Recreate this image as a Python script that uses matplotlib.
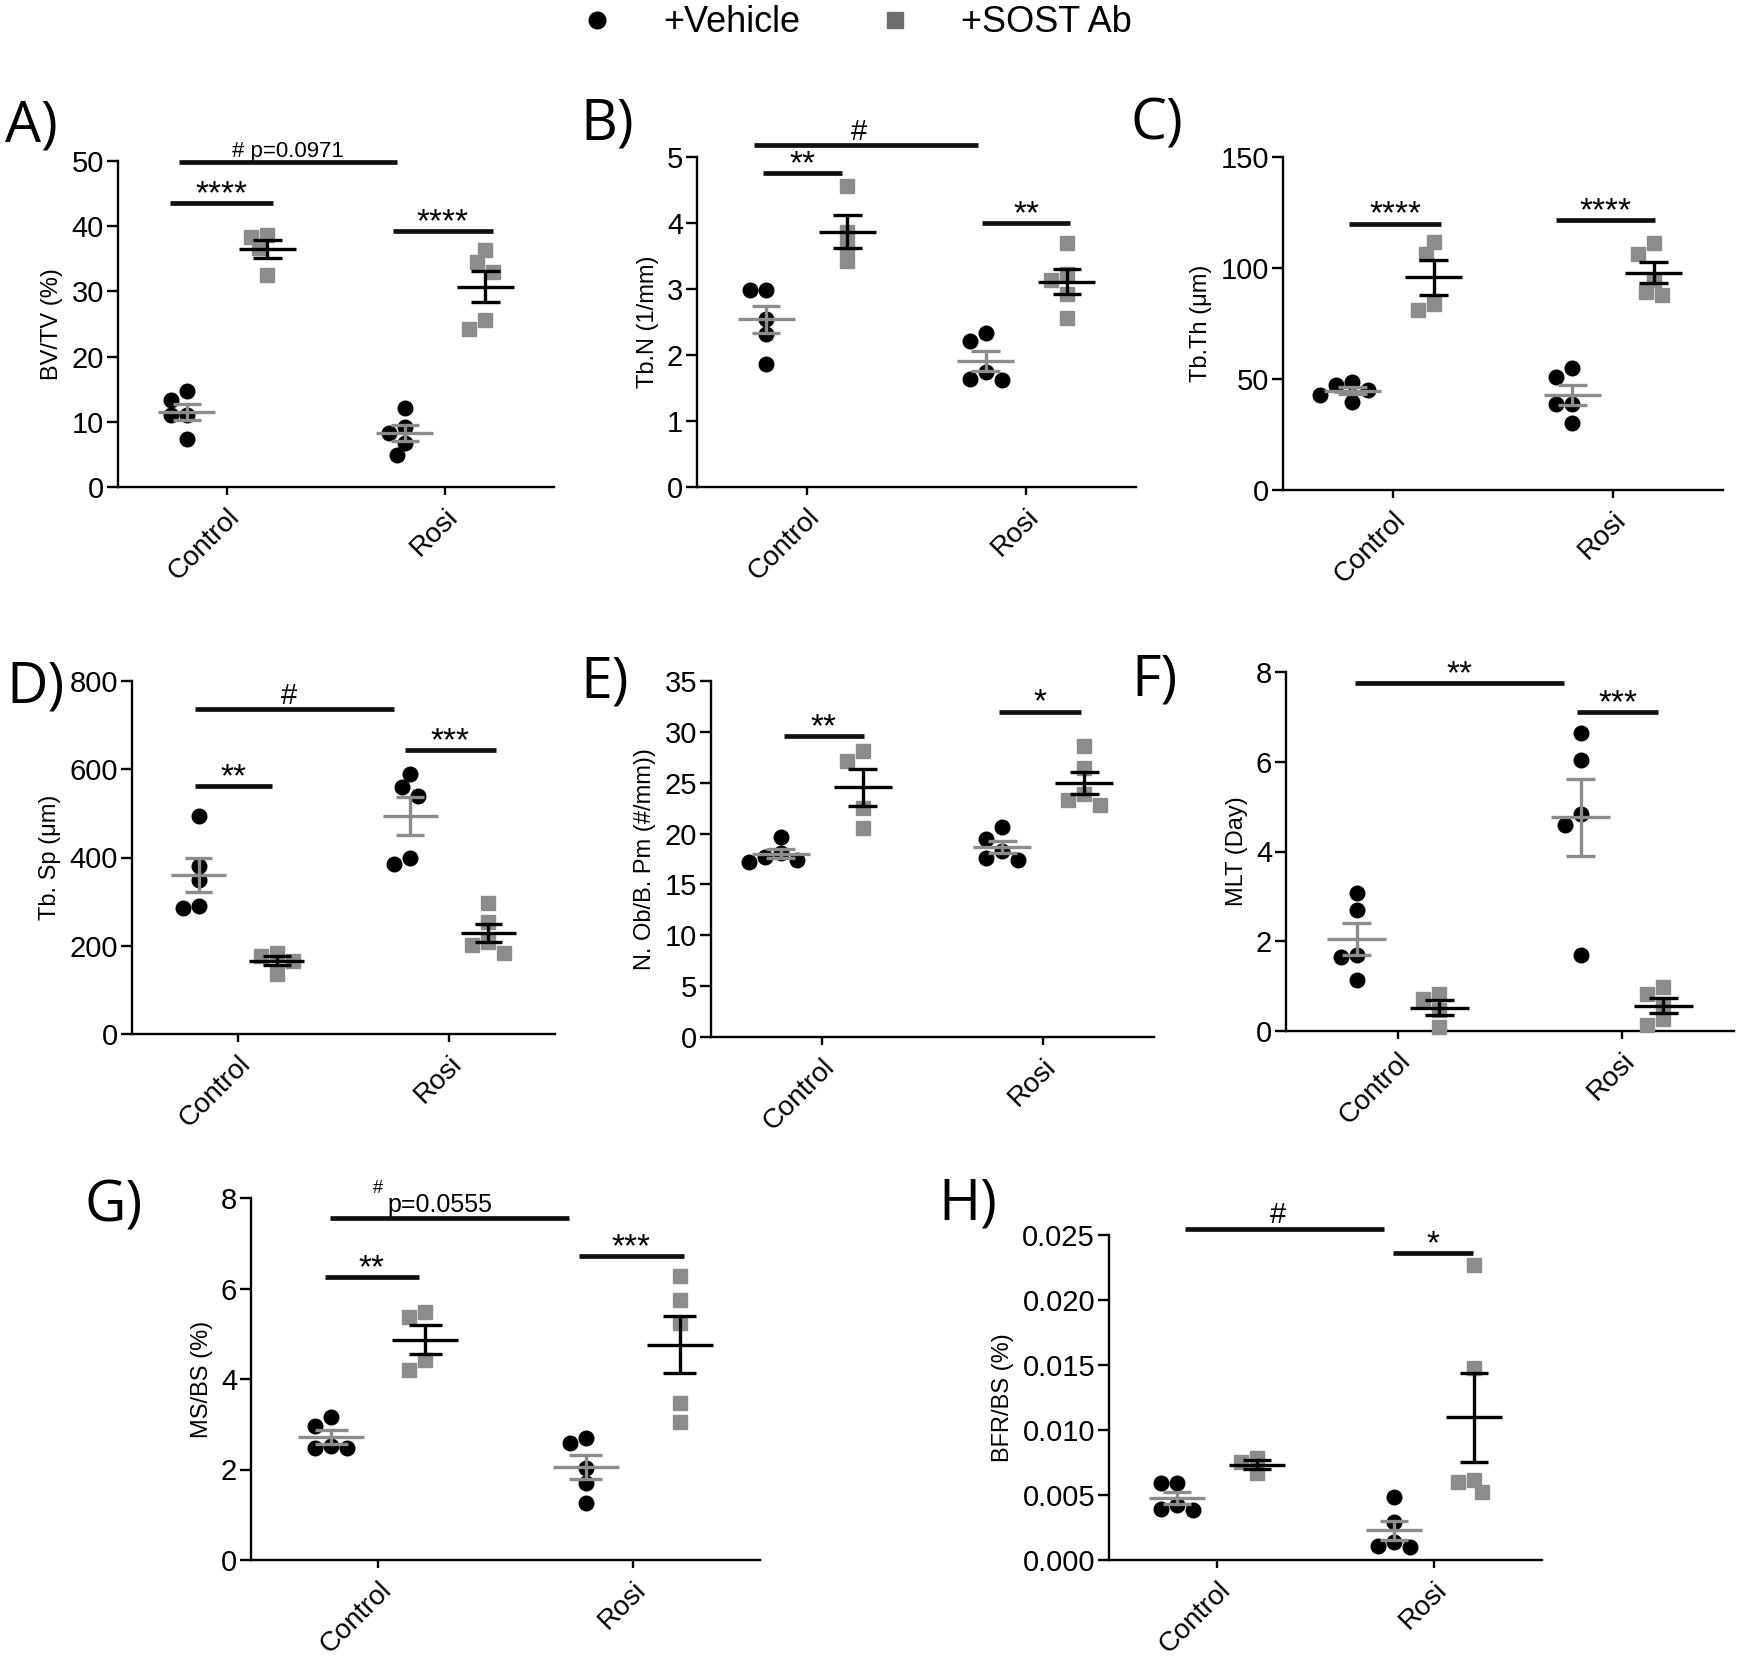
import numpy as np
import matplotlib
matplotlib.use("Agg")
import matplotlib.pyplot as plt
from matplotlib.lines import Line2D

plt.rcParams['font.family'] = ['Liberation Sans', 'DejaVu Sans']

groups = ['Control', 'Rosi']

# A) BV/TV (%)  -- [control, rosi]
bvtv_veh = [[14.8, 13.3, 11.0, 11.0, 7.4], [12.1, 9.2, 8.3, 6.7, 4.9]]
bvtv_sost = [[38.4, 38.6, 36.6, 32.5], [36.3, 34.5, 33.0, 25.6, 24.3]]
# B) Tb.N (1/mm)
tbn_veh = [[2.98, 2.98, 2.55, 2.32, 1.86], [2.34, 2.21, 1.74, 1.62, 1.64]]
tbn_sost = [[4.56, 3.86, 3.64, 3.42], [3.70, 3.23, 3.13, 2.93, 2.56]]
# C) Tb.Th (um)
tbth_veh = [[48.8, 47.3, 45.0, 42.8, 39.8], [54.8, 51.0, 38.7, 38.7, 30.0]]
tbth_sost = [[111.8, 106.2, 84.0, 81.0], [111.3, 106.5, 94.8, 89.3, 87.8]]
# D) Tb.Sp (um)
tbsp_veh = [[494, 381, 349, 286, 291], [590, 560, 540, 385, 398]]
tbsp_sost = [[177, 183, 166, 137], [296, 254, 209, 201, 183]]
# E) N.Ob/B.Pm (#/mm)
nob_veh = [[19.7, 18.1, 17.7, 17.2, 17.4], [20.6, 19.5, 18.3, 17.6, 17.4]]
nob_sost = [[28.1, 27.1, 22.5, 20.5], [28.6, 26.4, 23.9, 23.3, 22.8]]
# F) MLT (Day)
mlt_veh = [[3.08, 2.70, 1.69, 1.65, 1.13], [6.65, 6.03, 4.84, 4.60, 1.69]]
mlt_sost = [[0.83, 0.71, 0.46, 0.09], [0.98, 0.83, 0.61, 0.26, 0.13]]
# G) MS/BS (%)
msbs_veh = [[3.17, 2.96, 2.51, 2.47, 2.47], [2.69, 2.58, 2.03, 1.70, 1.25]]
msbs_sost = [[5.49, 5.38, 4.42, 4.20], [6.28, 5.75, 5.24, 3.47, 3.06]]
# H) BFR/BS (%)
bfr_veh = [[0.0059, 0.0059, 0.00423, 0.00385, 0.0039], [0.00487, 0.00295, 0.00141, 0.00103, 0.0011]]
bfr_sost = [[0.00782, 0.00751, 0.00667], [0.0227, 0.01474, 0.00615, 0.00603, 0.00526]]

W, H = 1738, 1662
fig = plt.figure(figsize=(W / 100, H / 100), dpi=100)

GREY = '#8c8c8c'

# rect in pixels: left, top, right, bottom ; letter at (x, baseline)
panels = [
    dict(letter='A)', lpos=(5, 142), rect=(118, 161, 554, 487), veh=bvtv_veh, sost=bvtv_sost,
         ytop=50, ystep=10, ylabel='BV/TV (%)', fmt='%d',
         sig=[(-0.22, 0.78, 49.8, '# p=0.0971'), (-0.26, 0.21, 43.5, '****'), (0.76, 1.22, 39.25, '****')]),
    dict(letter='B)', lpos=(580, 140), rect=(697, 157, 1136, 487), veh=tbn_veh, sost=tbn_sost,
         ytop=5, ystep=1, ylabel='Tb.N (1/mm)', fmt='%d',
         sig=[(-0.24, 0.78, 5.18, '#'), (-0.2, 0.16, 4.76, '**'), (0.8, 1.2, 4.0, '**')]),
    dict(letter='C)', lpos=(1131, 140), rect=(1283, 157, 1723, 490), veh=tbth_veh, sost=tbth_sost,
         ytop=150, ystep=50, ylabel='Tb.Th (\u03bcm)', fmt='%d',
         sig=[(-0.2, 0.22, 120, '****'), (0.74, 1.19, 121.5, '****')]),
    dict(letter='D)', lpos=(6, 703), rect=(132, 681, 555, 1034), veh=tbsp_veh, sost=tbsp_sost,
         ytop=800, ystep=200, ylabel='Tb. Sp (\u03bcm)', fmt='%d',
         sig=[(-0.2, 0.74, 736, '#'), (-0.2, 0.16, 562, '**'), (0.79, 1.22, 643, '***')]),
    dict(letter='E)', lpos=(580, 697), rect=(711, 681, 1154, 1037), veh=nob_veh, sost=nob_sost,
         ytop=35, ystep=5, ylabel='N. Ob/B. Pm (#/mm))', fmt='%d',
         sig=[(-0.17, 0.19, 29.6, '**'), (0.80, 1.17, 32.0, '*')]),
    dict(letter='F)', lpos=(1131, 695), rect=(1286, 672, 1734, 1031), veh=mlt_veh, sost=mlt_sost,
         ytop=8, ystep=2, ylabel='MLT (Day)', fmt='%d',
         sig=[(-0.19, 0.74, 7.76, '**'), (0.8, 1.16, 7.1, '***')]),
    dict(letter='G)', lpos=(85, 1222), rect=(251, 1198, 760, 1560), veh=msbs_veh, sost=msbs_sost,
         ytop=8, ystep=2, ylabel='MS/BS (%)', fmt='%d',
         sig=[(-0.19, 0.75, 7.56, ''), (-0.21, 0.16, 6.25, '**'), (0.79, 1.2, 6.71, '***')]),
    dict(letter='H)', lpos=(938, 1220), rect=(1109, 1235, 1542, 1560), veh=bfr_veh, sost=bfr_sost,
         ytop=0.025, ystep=0.005, ylabel='BFR/BS (%)', fmt='%.3f',
         sig=[(-0.15, 0.77, 0.02546, '#'), (0.81, 1.18, 0.0236, '*')]),
]


def swarm(vals, px_per_y, diam=14.0, step=8.0):
    # simple beeswarm in pixel space, returns x offsets in pixels
    vals = np.asarray(vals, dtype=float)
    placed = []
    offs = np.zeros(len(vals))
    for i in np.argsort(-vals):
        y = vals[i] * px_per_y
        for k in [0, -1, 1, -2, 2, -3, 3, -4, 4]:
            x = k * step
            if all((x - px) ** 2 + (y - py) ** 2 >= diam ** 2 for px, py in placed):
                break
        placed.append((x, y))
        offs[i] = x
    return offs


for p in panels:
    l, t, r, b = p['rect']
    ax = fig.add_axes([l / W, 1 - b / H, (r - l) / W, (b - t) / H])
    ax.set_xlim(-0.5, 1.5)
    ax.set_ylim(0, p['ytop'])
    px_x = (r - l) / 2.0
    px_y = (b - t) / p['ytop']

    for gi in range(2):
        for vals, dx, marker, col, mcol in [(p['veh'][gi], -0.185, 'o', 'black', GREY),
                                             (p['sost'][gi], 0.185, 's', GREY, 'black')]:
            c = gi + dx
            xo = swarm(vals, px_y) / px_x
            ax.plot(c + xo, vals, marker, color=col, ms=10.5 if marker == 'o' else 10,
                    ls='none', clip_on=False, zorder=3)
            m = np.mean(vals)
            se = np.std(vals, ddof=1) / np.sqrt(len(vals))
            ax.hlines(m, c - 0.13, c + 0.13, color=mcol, lw=2.4, zorder=4)
            ax.hlines([m - se, m + se], c - 0.065, c + 0.065, color=mcol, lw=2.4, zorder=4)
            ax.vlines(c, m - se, m + se, color=mcol, lw=2.4, zorder=4)

    for x0, x1, y, lab in p['sig']:
        ax.plot([x0, x1], [y, y], color='#111111', lw=3.4, solid_capstyle='butt',
                clip_on=False, zorder=5)
        if lab.startswith('#') and len(lab) > 1:
            ax.annotate(lab, xy=((x0 + x1) / 2, y), xytext=(0, 4), textcoords='offset points',
                        ha='center', va='baseline', fontsize=16, annotation_clip=False)
        elif lab == '#':
            ax.annotate(lab, xy=((x0 + x1) / 2 - 0.03, y), xytext=(0, 4), textcoords='offset points',
                        ha='center', va='baseline', fontsize=21, annotation_clip=False)
        elif lab:
            ax.annotate(lab, xy=((x0 + x1) / 2, y), xytext=(0, 0), textcoords='offset points',
                        ha='center', va='baseline', fontsize=24, annotation_clip=False)

    if p['letter'] == 'G)':
        ax.annotate('p=0.0555', xy=(0.035, 7.56), xytext=(0, 4), textcoords='offset points',
                    ha='left', va='baseline', fontsize=18, annotation_clip=False)
        ax.annotate('#', xy=(0.0, 7.56), xytext=(0, 18), textcoords='offset points',
                    ha='center', va='baseline', fontsize=13, annotation_clip=False)

    yt = np.arange(0, p['ytop'] + p['ystep'] / 2, p['ystep'])
    ax.set_yticks(yt)
    ax.set_yticklabels([p['fmt'] % v for v in yt])
    ax.set_xticks([0, 1])
    ax.set_xticklabels(groups, rotation=45, ha='right', rotation_mode='anchor')
    ax.set_ylabel(p['ylabel'], fontsize=17, labelpad=6)

    for s in ['top', 'right']:
        ax.spines[s].set_visible(False)
    for s in ['left', 'bottom']:
        ax.spines[s].set_linewidth(1.7)
    ax.tick_params(axis='y', length=8, width=1.7, labelsize=21, pad=2)
    ax.tick_params(axis='x', length=6, width=1.7, labelsize=20, pad=6)

    fig.text(p['lpos'][0] / W, 1 - p['lpos'][1] / H, p['letter'], fontsize=41,
             family=['Open Sans', 'DejaVu Sans'], ha='left', va='baseline')

handles = [Line2D([], [], ls='none', marker='o', color='black', ms=12),
           Line2D([], [], ls='none', marker='s', color='#6e6e6e', ms=11)]
fig.legend(handles, ['+Vehicle', '+SOST Ab'], loc='upper center', bbox_to_anchor=(0.487, 1.0),
           ncol=2, frameon=False, fontsize=26, handletextpad=0.83, columnspacing=1.64,
           borderaxespad=0, borderpad=0.15)

fig.savefig('out.png', dpi=100)
